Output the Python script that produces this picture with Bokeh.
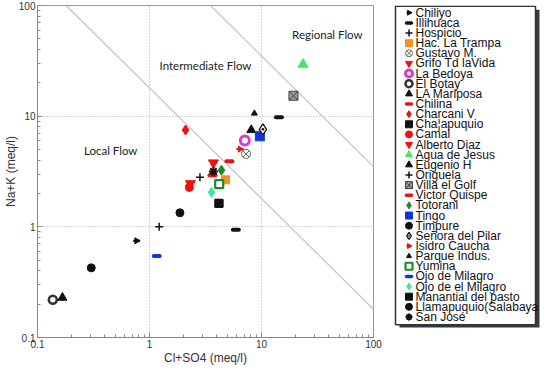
import math
from bokeh.plotting import figure
from bokeh.layouts import row
from bokeh.models import FixedTicker, Range1d, CustomJSTickFormatter
from bokeh.embed import file_html
from bokeh.resources import INLINE
from bokeh.core.properties import value

# ---------------- data ----------------
stations = ["Chiliyo", "Illihuaca", "Hospicio", "Hac. La Trampa", "Gustavo M.",
            "Grifo Td laVida", "La Bedoya", "El Botay", "LA Mariposa", "Chilina",
            "Charcani V", "Cha¦apuquio", "Camal", "Alberto Diaz", "Agua de Jesus",
            "Eugenio H", "Origuela", "Villa el Golf", "Victor Quispe", "Totorani",
            "Tingo", "Timpure", "Señora del Pilar", "Isidro Caucha", "Parque Indus.",
            "Yumina", "Ojo de Milagro", "Ojo de el Milagro", "Manantial del pasto",
            "Llamapuquio(Salabaya", "San José"]
cl_so4 = [[0.767], [14.3, 5.9], [1.22], [4.78], [7.28],
          [3.72], [7.1], [0.137], [0.167], [5.17],
          [2.10], [4.17], [2.27], [2.32], [23.5],
          [8.1], [2.82], [19.3], [3.65], [4.39],
          [9.67], [0.302], [10.3], [6.43], [8.64],
          [4.19], [1.16], [3.58], [4.17],
          [1.87], [3.72]]
na_k = [[0.748], [9.8, 0.94], [1.0], [2.66], [4.56],
        [3.79], [6.03], [0.219], [0.229], [3.92],
        [7.5], [1.63], [2.27], [2.46], [29.4],
        [7.5], [2.81], [15.3], [2.92], [3.25],
        [6.58], [0.426], [7.6], [5.04], [10.6],
        [2.43], [0.545], [2.05], [1.63],
        [1.34], [3.17]]

axis_ticks = [0.1, 1, 10, 100]
minor_ticks = [0.2, 0.3, 0.4, 0.5, 0.6, 0.7, 0.8, 0.9,
               2, 3, 4, 5, 6, 7, 8, 9, 20, 30, 40, 50, 60, 70, 80, 90]
# flow boundaries (Cl+SO4 x Na+K = const)
local_bound_x = [0.18, 100]
local_bound_y = [100, 0.18]
regional_bound_x = [3.5, 100]
regional_bound_y = [100, 3.5]
zone_names = ["Local Flow", "Intermediate Flow", "Regional Flow"]
zone_x = [0.45, 3.16, 38.7]
zone_y = [4.9, 28.4, 54.8]

# ---------------- styles ----------------
K = "#111111"
RED = "#ee1111"
ORANGE = "#f39020"
GREEN = "#1f8a24"
LGREEN = "#3ee86a"
AQUA = "#3ee8a0"
MAG = "#d43cd4"
BLUE = "#1133dd"


def arrow(c):
    return [dict(marker="dash", size=7, line_color=c, line_width=2),
            dict(marker="triangle", size=6, angle=-math.pi / 2, fill_color=c, line_color=c)]


def dash(c):
    return [dict(marker="dash", size=6, line_color=c, line_width=4, line_cap="round")]


def mk(m, c, s=8, **kw):
    d = dict(marker=m, size=s, fill_color=c, line_color=c)
    d.update(kw)
    return [d]


styles = {
    "Chiliyo": arrow(K),
    "Illihuaca": dash(K),
    "Hospicio": mk("cross", K, 8, line_width=1.5),
    "Hac. La Trampa": mk("square", ORANGE, 8),
    "Gustavo M.": mk("circle_x", "white", 9, line_color="#666666", line_width=1),
    "Grifo Td laVida": mk("inverted_triangle", RED, 10),
    "La Bedoya": mk("circle", "white", 9, line_color=MAG, line_width=3),
    "El Botay": mk("circle", "white", 8, line_color="#333333", line_width=2.5),
    "LA Mariposa": mk("triangle", K, 9),
    "Chilina": dash(RED),
    "Charcani V": mk("diamond", RED, 10),
    "Cha¦apuquio": mk("square", K, 8),
    "Camal": mk("circle", RED, 8),
    "Alberto Diaz": mk("inverted_triangle", RED, 10),
    "Agua de Jesus": mk("triangle", LGREEN, 10),
    "Eugenio H": mk("triangle", K, 9),
    "Origuela": mk("cross", K, 8, line_width=1.5),
    "Villa el Golf": mk("square_x", "#9a9a9a", 9, line_color="#444444"),
    "Victor Quispe": dash(RED),
    "Totorani": mk("diamond", GREEN, 10),
    "Tingo": mk("square", BLUE, 9),
    "Timpure": mk("circle", K, 8),
    "Señora del Pilar": mk("diamond_dot", "white", 11, line_color=K, line_width=1.3),
    "Isidro Caucha": arrow(RED),
    "Parque Indus.": mk("triangle", K, 6),
    "Yumina": mk("square", "white", 8, line_color=GREEN, line_width=2.2),
    "Ojo de Milagro": dash(BLUE),
    "Ojo de el Milagro": mk("diamond", AQUA, 10),
    "Manantial del pasto": mk("square", K, 8),
    "Llamapuquio(Salabaya": mk("circle", K, 8),
    "San José": mk("asterisk", K, 9, line_width=2),
}

# ---------------- main plot ----------------
H = 367
PW = 385
p = figure(width=PW, height=H, x_axis_type="log", y_axis_type="log",
           x_range=Range1d(0.1, 100), y_range=Range1d(0.1, 100),
           output_backend="svg", toolbar_location=None,
           min_border_left=30, min_border_right=12,
           min_border_top=5, min_border_bottom=28,
           x_axis_label="Cl+SO4 (meq/l)", y_axis_label="Na+K (meq/l)")
p.background_fill_color = "white"
p.border_fill_color = "white"
p.outline_line_color = "#999999"

fmt = CustomJSTickFormatter(code="return tick.toString();")
for ax in (p.xaxis[0], p.yaxis[0]):
    ax.ticker = FixedTicker(ticks=axis_ticks, minor_ticks=minor_ticks)
    ax.formatter = fmt
    ax.major_tick_in = 5
    ax.major_tick_out = 0
    ax.minor_tick_in = 3
    ax.minor_tick_out = 0
    ax.axis_line_color = "#888888"
    ax.major_tick_line_color = "#888888"
    ax.minor_tick_line_color = "#888888"
    ax.major_label_text_font = "Liberation Sans"
    ax.major_label_text_font_size = "10px"
    ax.major_label_text_color = "#333333"
    ax.major_label_standoff = 2
    ax.axis_label_text_font = "Liberation Sans"
    ax.axis_label_text_font_size = "12px"
    ax.axis_label_text_font_style = "normal"
    ax.axis_label_text_color = "#333333"
    ax.axis_label_standoff = 0
p.yaxis[0].axis_label_standoff = -2

for g in (p.xgrid[0], p.ygrid[0]):
    g.ticker = FixedTicker(ticks=[1, 10])
    g.grid_line_color = "#aaaaaa"
    g.grid_line_dash = "1 2"
    g.grid_line_width = 1

p.line(local_bound_x, local_bound_y, line_color="#c4c4c4", line_width=1.2)
p.line(regional_bound_x, regional_bound_y, line_color="#c4c4c4", line_width=1.2)

p.text(zone_x, zone_y, text=zone_names, text_font=value("Lato"),
       text_font_size="11.5px", text_color="#222222",
       text_align="center", text_baseline="middle")

for name, xs, ys in zip(stations, cl_so4, na_k):
    for st in styles[name]:
        p.scatter(xs, ys, **st)

# ---------------- legend panel (pixel coordinates) ----------------
LW = 540 - PW
leg = figure(width=LW, height=H, x_range=Range1d(0, LW), y_range=Range1d(H, 0),
             output_backend="svg", toolbar_location=None,
             x_axis_location=None, y_axis_location=None,
             min_border_left=0, min_border_right=0, min_border_top=0, min_border_bottom=0)
leg.outline_line_color = None
leg.xgrid.visible = False
leg.ygrid.visible = False
leg.background_fill_color = "white"
leg.border_fill_color = "white"

BOX_L, BOX_R, BOX_T, BOX_B = 10, 150, 0.75, 353
leg.quad(left=[BOX_L + 4], right=[BOX_R + 4], top=[BOX_T + 4], bottom=[BOX_B + 3],
         fill_color="#3a3a3a", line_color=None)
leg.quad(left=[BOX_L], right=[BOX_R], top=[BOX_T], bottom=[BOX_B],
         fill_color="white", line_color="#333333", line_width=1.5)

ROW0, PITCH = 8.0, 11.21
row_y = [ROW0 + PITCH * i for i in range(len(stations))]
for name, yy in zip(stations, row_y):
    for st in styles[name]:
        s = dict(st)
        s["size"] = min(s["size"] - 1, 7)
        if s.get("marker") == "dash":
            s["size"] = 5
            s["line_width"] = min(s.get("line_width", 1), 3.5)
        leg.scatter([BOX_L + 13.5], [yy], **s)
leg.text([BOX_L + 20] * len(stations), row_y, text=stations,
         text_font=value("Liberation Sans"), text_font_size="12px",
         text_color="#111111", text_align="left", text_baseline="middle")

layout = row(p, leg)
open("out.html", "w").write(file_html(layout, INLINE))
